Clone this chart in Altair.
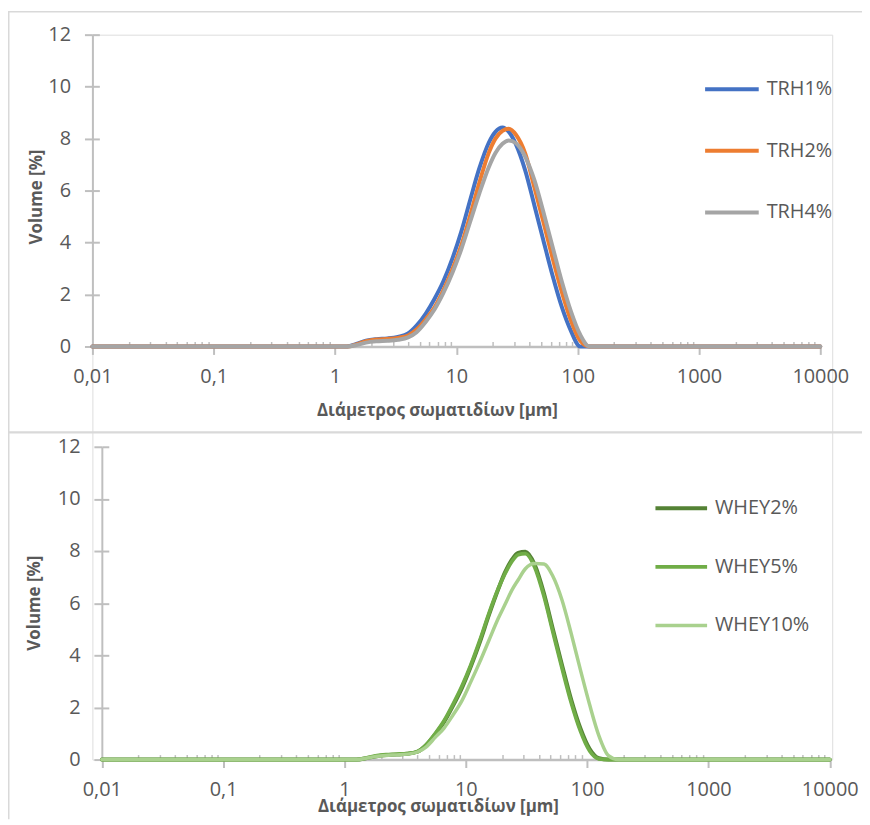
import altair as alt
import pandas as pd

# ---------------- data ----------------
sizes = [0.01, 1.0, 1.26, 1.5, 1.8, 2.2, 2.7, 3.3, 4.0, 4.7, 5.6, 6.6, 7.8, 9.3, 11, 13,
         15.5, 18.5, 21, 24, 27, 31, 37, 44, 52, 62, 74, 88, 105, 125, 150, 180, 10000]

trh_names = ["TRH1%", "TRH2%", "TRH4%"]
trh1 = [0, 0, 0, 0.10, 0.22, 0.28, 0.31, 0.37, 0.50, 0.80, 1.27, 1.83, 2.50, 3.40, 4.43, 5.64,
        6.87, 7.84, 8.26, 8.43, 8.27, 7.78, 6.77, 5.43, 4.11, 2.74, 1.52, 0.60, 0, 0, 0, 0, 0]
trh2 = [0, 0, 0, 0.08, 0.20, 0.27, 0.29, 0.33, 0.42, 0.65, 1.05, 1.50, 2.15, 2.98, 3.90, 5.04,
        6.32, 7.45, 8.00, 8.30, 8.38, 8.15, 7.42, 6.12, 4.82, 3.42, 2.10, 1.00, 0.22, 0, 0, 0, 0]
trh4 = [0, 0, 0, 0.05, 0.15, 0.20, 0.22, 0.26, 0.35, 0.55, 0.95, 1.42, 2.05, 2.85, 3.75, 4.80,
        5.90, 6.90, 7.45, 7.80, 7.93, 7.82, 7.30, 6.40, 5.20, 3.85, 2.50, 1.35, 0.45, 0, 0, 0, 0]

whey_names = ["WHEY2%", "WHEY5%", "WHEY10%"]
whey2 = [0, 0, 0, 0.05, 0.12, 0.17, 0.19, 0.22, 0.30, 0.55, 0.97, 1.43, 2.04, 2.75, 3.57, 4.48,
         5.54, 6.53, 7.17, 7.67, 7.93, 7.97, 7.47, 6.39, 5.04, 3.64, 2.29, 1.20, 0.40, 0.05, 0, 0, 0]
whey5 = [0, 0, 0, 0.06, 0.14, 0.19, 0.21, 0.23, 0.31, 0.56, 1.00, 1.48, 2.10, 2.82, 3.63, 4.55,
         5.60, 6.55, 7.12, 7.60, 7.86, 7.90, 7.38, 6.28, 4.93, 3.52, 2.18, 1.10, 0.33, 0.03, 0, 0, 0]
whey10 = [0, 0, 0, 0.05, 0.12, 0.16, 0.18, 0.21, 0.29, 0.48, 0.85, 1.20, 1.69, 2.26, 2.98, 3.73,
          4.57, 5.41, 5.94, 6.50, 6.89, 7.32, 7.52, 7.50, 7.05, 6.13, 4.83, 3.45, 2.10, 0.92, 0.15, 0, 0]

x_tick_values = [0.01, 0.1, 1, 10, 100, 1000, 10000]
x_tick_labels = ["0,01", "0,1", "1", "10", "100", "1000", "10000"]
x_minor_values = [k * 10.0 ** e for e in range(-2, 4) for k in range(2, 10)]
y_tick_values = [0, 2, 4, 6, 8, 10, 12]

x_title = "Διάμετρος σωματιδίων [μm]"
y_title = "Volume [%]"


def long_df(names, series):
    rows = []
    for n, vals in zip(names, series):
        for s, v in zip(sizes, vals):
            rows.append({"size": s, "volume": v, "series": n})
    return pd.DataFrame(rows)


trh_df = long_df(trh_names, [trh1, trh2, trh4])
whey_df = long_df(whey_names, [whey2, whey5, whey10])

label_expr = " : ".join(
    f"datum.value == {v} ? '{l}'" for v, l in zip(x_tick_values, x_tick_labels)
) + " : ''"

AX = "#BFBFBF"
TXT = "#595959"
FRAME = "#D9D9D9"
FONT = "Open Sans"

# overall plot rectangle (both panels) in pixels
W_ALL, H_ALL = 745, 730


def panel(df, names, colors, widths, xr, yr, x_off, y_off, in_x_off, in_y_off,
          leg_x, leg_y, sym_size, row_pad, title_x, title_y, ytitle_x, ytitle_y):
    xscale = alt.Scale(type="log", domain=[0.01, 10000], nice=False, range=xr)
    yscale = alt.Scale(domain=[0, 12], nice=False, zero=True, range=yr)
    lines = alt.Chart(df).mark_line(interpolate="monotone", strokeCap="round",
                                    strokeJoin="round").encode(
        x=alt.X("size:Q", scale=xscale, title=x_title,
                axis=alt.Axis(orient="bottom", offset=x_off, values=x_tick_values,
                              labelExpr=label_expr, grid=False, domainColor=AX,
                              domainWidth=2.5, tickColor=AX, tickWidth=2, tickSize=8,
                              labelPadding=12, labelFlush=False, labelFont=FONT,
                              labelFontSize=20, labelColor=TXT, titleFont=FONT,
                              titleFontSize=17, titleFontWeight="bold", titleColor=TXT,
                              titleX=title_x, titleY=title_y, titleBaseline="middle",
                              titleAlign="center")),
        y=alt.Y("volume:Q", scale=yscale, title=y_title,
                axis=alt.Axis(orient="left", offset=y_off, values=y_tick_values, grid=False,
                              domainColor=AX, domainWidth=2, tickColor=AX, tickWidth=2,
                              tickSize=8, labelPadding=14, labelFont=FONT, labelFontSize=20,
                              labelColor=TXT, titleFont=FONT, titleFontSize=17,
                              titleFontWeight="bold", titleColor=TXT, titleAngle=-90,
                              titleX=ytitle_x, titleY=ytitle_y, titleBaseline="middle",
                              titleAlign="center")),
        color=alt.Color("series:N", sort=names,
                        scale=alt.Scale(domain=names, range=colors),
                        legend=alt.Legend(orient="none", legendX=leg_x, legendY=leg_y,
                                          direction="vertical", title=None,
                                          symbolType="stroke", symbolSize=sym_size,
                                          symbolStrokeWidth=3.5, labelFont=FONT,
                                          labelFontSize=20, labelColor=TXT, labelOffset=6,
                                          rowPadding=row_pad, padding=0)),
        strokeWidth=alt.StrokeWidth("series:N", scale=alt.Scale(domain=names, range=widths),
                                    legend=None),
    )
    inner = alt.Chart(df).mark_point(opacity=0).encode(
        x=alt.X("size:Q", scale=xscale, title=None,
                axis=alt.Axis(orient="top", offset=in_x_off, values=x_minor_values,
                              labels=False, domain=False, grid=False, tickColor=AX,
                              tickWidth=1.5, tickSize=5)),
        y=alt.Y("volume:Q", scale=yscale, title=None,
                axis=alt.Axis(orient="right", offset=in_y_off, values=y_tick_values,
                              labels=False, domain=False, grid=False, tickColor=AX,
                              tickWidth=2, tickSize=7)),
    )
    return [inner, lines]


top_layers = panel(trh_df, trh_names, ["#4472C4", "#ED7D31", "#A5A5A5"], [4, 4, 4],
                   [0, 733], [314, 0], -416, 0, -314, -W_ALL,
                   615, 26, 2916, 23, 347, 65, -56, 163)
bottom_layers = panel(whey_df, whey_names, ["#548235", "#70AD47", "#A9D18E"], [4, 3.5, 3],
                      [9.5, 742.5], [730, 415], 0, -9.5, -730, -(W_ALL - 9.5),
                      565, 449, 2704, 21, 348, 47, -67.5, 572)

one = pd.DataFrame({"k": [0]})
frame_top = alt.Chart(one).mark_rule(color=FRAME, strokeWidth=1.5).encode(
    x=alt.value(-85), x2=alt.value(775), y=alt.value(-23))
frame_left = alt.Chart(one).mark_rule(color=FRAME, strokeWidth=2).encode(
    x=alt.value(-84.5), y=alt.value(-23), y2=alt.value(790))
frame_mid = alt.Chart(one).mark_rule(color=FRAME, strokeWidth=2.5).encode(
    x=alt.value(-85), x2=alt.value(775), y=alt.value(400.5))

chart = alt.layer(frame_top, frame_left, frame_mid, *top_layers, *bottom_layers).resolve_scale(
    x="independent", y="independent", color="independent", strokeWidth="independent"
).resolve_axis(x="independent", y="independent").resolve_legend(
    color="independent", strokeWidth="independent"
).properties(
    width=W_ALL, height=H_ALL,
    autosize=alt.AutoSizeParams(type="none"),
    padding={"left": 85, "top": 24, "right": 30, "bottom": 58},
).configure_view(stroke="transparent").configure(background="white")

chart.save("out.html", embed_options={"renderer": "svg", "actions": False})
